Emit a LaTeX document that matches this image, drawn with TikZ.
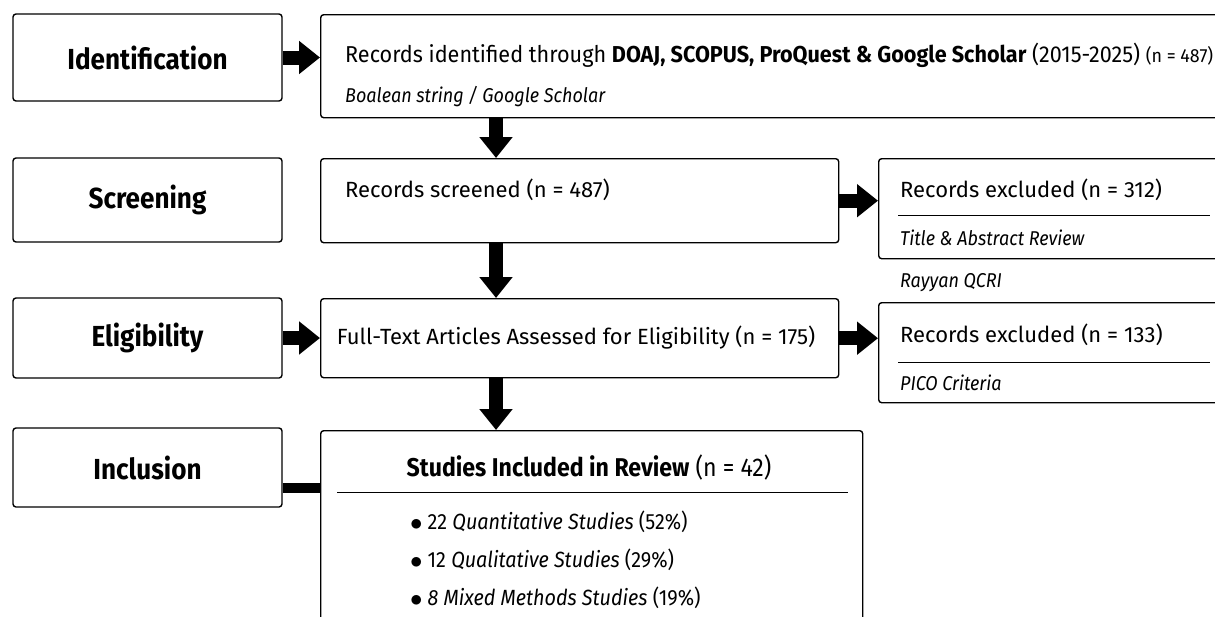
\documentclass[tikz,border=0pt]{standalone}
\usepackage{fontspec}
\setmainfont{Fira Sans}
\newfontfamily\narrowfont[FakeStretch=0.9]{Fira Sans}
\usetikzlibrary{arrows.meta}

\newcommand{\bigdot}{\raisebox{-0.5pt}{\scalebox{1.2}{$\bullet$}}\hspace{5pt}}

\tikzset{
  stage/.style={draw, rounded corners=3pt, line width=1.4pt, minimum width=269pt, inner sep=0pt,
    font=\fontsize{29}{32}\selectfont\narrowfont\bfseries},
  box/.style={draw, rounded corners=3pt, line width=1.4pt, anchor=north west, inner sep=0pt},
  txt/.style={anchor=west, inner sep=0pt, font=\fontsize{22}{26}\selectfont},
  sub/.style={anchor=west, inner sep=0pt, font=\fontsize{20}{24}\selectfont\narrowfont\itshape},
  item/.style={anchor=west, inner sep=0pt, font=\fontsize{22}{26}\selectfont\narrowfont},
  flow/.style={line width=14pt, -{Triangle[length=21pt,width=32pt]}},
  bar/.style={line width=10pt},
  rule/.style={line width=1pt},
}

\begin{document}
\begin{tikzpicture}[x=1pt, y=-1pt]
    \useasboundingbox (0,0) rectangle (1215,616);
    \clip (0,0) rectangle (1215,616);
    % stages
    \node[stage, minimum height=87pt] (ident) at (147.5,57.5) {Identification};
    \node[stage, minimum height=84pt] (scrn) at (147.5,200) {Screening};
    \node[stage, minimum height=80pt] (elig) at (147.5,338) {Eligibility};
    \node[stage, minimum height=79pt] (incl) at (147.5,467.5) {Inclusion};
    % boxes
    \node[box, minimum width=905pt, minimum height=103pt] (recid) at (320,14) {};
    \node[box, minimum width=518pt, minimum height=84pt] (recscr) at (320,158) {};
    \node[box, minimum width=518pt, minimum height=79pt] (fulltxt) at (320,298) {};
    \node[box, minimum width=542pt, minimum height=200pt] (incstud) at (320,430) {};
    \node[box, minimum width=347pt, minimum height=100pt] (excla) at (878,158) {};
    \node[box, minimum width=347pt, minimum height=100pt] (exclb) at (878,302) {};
    % texts
    \node[txt, font=\fontsize{23}{26}\selectfont\narrowfont] (recidtxt) at (345,55) {\resizebox{868pt}{\height}{Records identified through \textbf{DOAJ, SCOPUS, ProQuest \& Google Scholar} (2015-2025) {\fontsize{19}{20}\selectfont(n = 487)}}};
    \node[sub] (recidsub) at (345,97) {Boalean string / Google Scholar};
    \node[txt] (recscrtxt) at (345,190) {Records screened (n = 487)};
    \node[txt, anchor=center] (fulltxttxt) at (576,338) {Full-Text Articles Assessed for Eligibility (n = 175)};
    \node[txt] (exclatxt) at (900,190) {Records excluded (n = 312)};
    \node[sub] (exclasub) at (900,238) {Title \& Abstract Review};
    \node[sub] (rayyan) at (900,283) {Rayyan QCRI};
    \node[txt] (exclbtxt) at (900,335) {Records excluded (n = 133)};
    \node[sub] (exclbsub) at (900,383) {PICO Criteria};
    \node[txt, anchor=center, font=\fontsize{25.7}{30}\selectfont\narrowfont] (incstudtxt) at (589,467) {\textbf{Studies Included in Review} (n = 42)};
    \node[item] (itema) at (410,522) {\bigdot 22 \textit{Quantitative Studies} (52\%)};
    \node[item] (itemb) at (410,560) {\bigdot 12 \textit{Qualitative Studies} (29\%)};
    \node[item] (itemc) at (410,598) {\bigdot \textit{8 Mixed Methods Studies} (19\%)};
    % dividers
    \draw[rule] (898,215) -- (1210,215);
    \draw[rule] (898,362) -- (1210,362);
    \draw[rule] (337,492) -- (848,492);
    % arrows
    \draw[flow] (ident.east) -- (ident.east -| recid.west);
    \draw[flow] (elig.east) -- (elig.east -| fulltxt.west);
    \draw[flow] ([xshift=176pt]recid.south west) -- ([xshift=176pt]recscr.north west);
    \draw[flow] ([xshift=176pt]recscr.south west) -- ([xshift=176pt]fulltxt.north west);
    \draw[flow] ([xshift=176pt]fulltxt.south west) -- ([xshift=176pt]incstud.north west);
    \draw[flow] (recscr.east) -- (recscr.east -| excla.west);
    \draw[flow] (fulltxt.east) -- (fulltxt.east -| exclb.west);
    \draw[bar] ([yshift=-20pt]incl.east) -- ([yshift=-20pt]incl.east -| incstud.west);
\end{tikzpicture}
\end{document}
